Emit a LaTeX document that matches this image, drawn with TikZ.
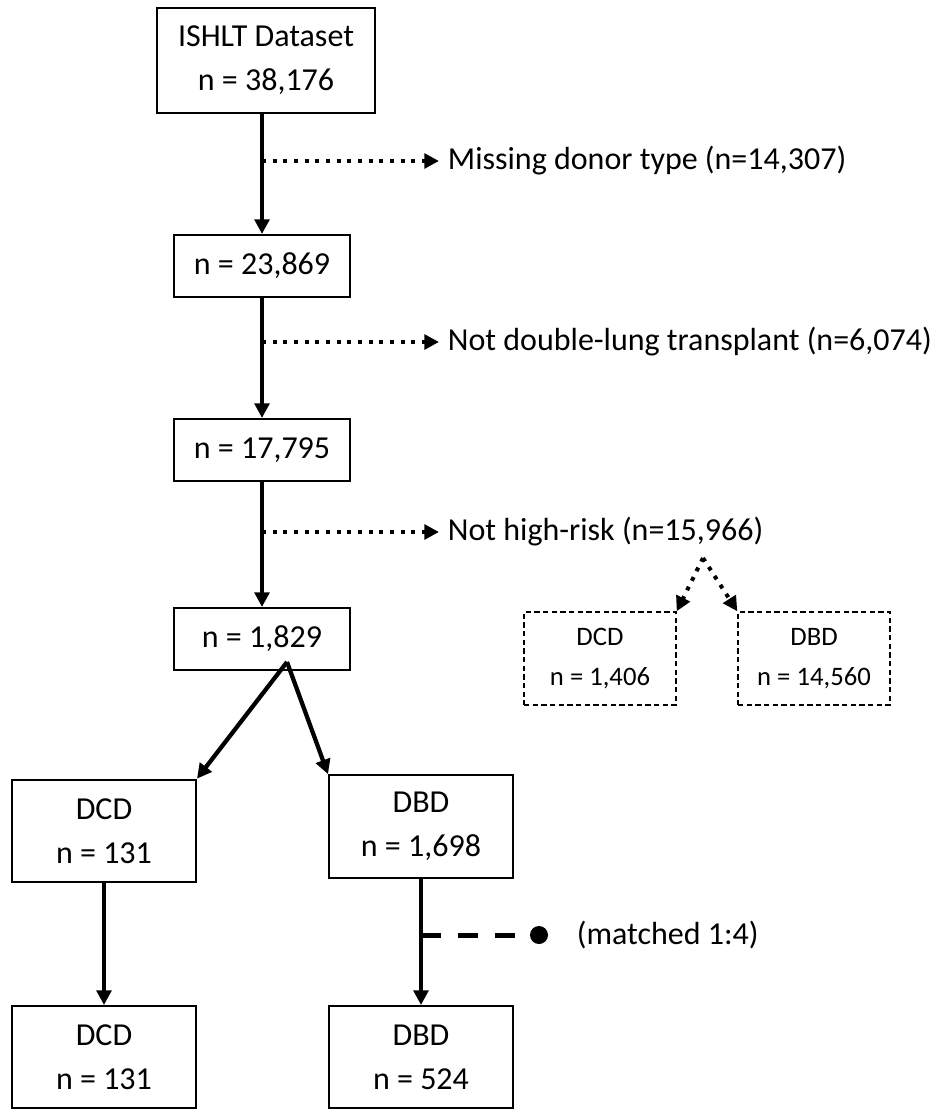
\documentclass[tikz,border=0pt]{standalone}
\usepackage{fontspec}
\setmainfont{Carlito}
\usepackage{tikz}
\usetikzlibrary{arrows.meta,shapes}

\begin{document}
\begin{tikzpicture}[x=0.75pt,y=-0.75pt,>={Triangle[length=11pt,width=11pt]},font=\fontsize{24}{33}\selectfont]
\tikzstyle{box}=[draw=black,line width=1.5pt,align=center,inner sep=0pt]
\tikzstyle{small box}=[box,minimum width=132pt,minimum height=46.5pt]
\tikzstyle{group box}=[box,minimum width=138pt,minimum height=77pt]
\tikzstyle{ghost box}=[box,line width=1.1pt,dash pattern=on 4pt off 2.5pt,minimum width=114pt,minimum height=69.75pt,font=\fontsize{20}{30}\selectfont]
\tikzstyle{flow}=[->,line width=3.2pt]
\tikzstyle{drop}=[->,line width=3pt,dash pattern=on 3pt off 5pt]
\tikzstyle{note}=[anchor=west,inner xsep=6.5pt,inner ysep=0pt]
\useasboundingbox (0,0) rectangle (933,1110);

% main chain
\node[box,minimum width=163.5pt,minimum height=78.75pt] (ishlt) at (266,60.5) {ISHLT Dataset\\n = 38,176};
\node[small box] (n2) at (262,266) {n = 23,869};
\node[small box] (n3) at (262,450) {n = 17,795};
\node[small box] (n4) at (262,639) {n = 1,829};

% groups
\node[group box] (dcd) at (104,831) {DCD\\n = 131};
\node[group box] (dbd) at (421,826.5) {DBD\\n = 1,698};
\node[group box,minimum height=76.5pt] (dcdm) at (104,1057) {DCD\\n = 131};
\node[group box,minimum height=76.5pt] (dbdm) at (421,1057) {DBD\\n = 524};

% excluded
\node[note] (miss) at (439,161) {Missing donor type (n=14,307)};
\node[note] (single) at (439,342) {Not double-lung transplant (n=6,074)};
\node[note] (lowrisk) at (439,532) {Not high-risk (n=15,966)};
\node[ghost box] (dcdx) at (600,658.5) {DCD\\n = 1,406};
\node[ghost box] (dbdx) at (814,658.5) {DBD\\n = 14,560};
\node[note] (matched) at (568,935) {(matched 1:4)};
\node[circle,fill=black,inner sep=0pt,minimum size=13.5pt] (dot) at (539,935) {};

\coordinate (b1) at (262,161);
\coordinate (b2) at (262,342);
\coordinate (b3) at (262,532);
\coordinate (split) at (703,558);
\coordinate (fork) at (287,662);
\coordinate (m) at (421,935);

\path[flow] (ishlt.south -| n2) edge (n2.north)
            (n2.south) edge (n3.north)
            (n3.south) edge (n4.north)
            (fork) edge (dcd.north east)
            (fork) edge (dbd.north west)
            (dcd.south) edge (dcdm.north)
            (dbd.south) edge (dbdm.north);
\path[drop] (b1) edge (miss.west)
            (b2) edge (single.west)
            (b3) edge (lowrisk.west)
            (split) edge (dcdx.north east)
            (split) edge (dbdx.north west);
\draw[line width=3.75pt,dash pattern=on 15pt off 12.75pt] (m) -- (dot);
\end{tikzpicture}
\end{document}
